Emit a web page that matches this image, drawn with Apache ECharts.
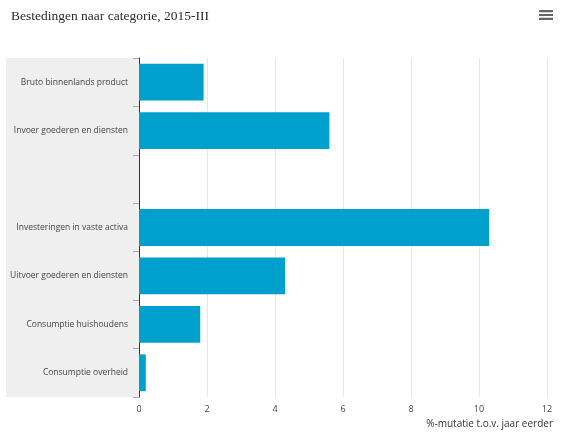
<!DOCTYPE html>
<html>
<head>
<meta charset="utf-8">
<script src="https://cdn.jsdelivr.net/npm/echarts@6/dist/echarts.min.js"></script>
<style>
  html, body { margin: 0; padding: 0; background: #fff; }
  #chart { width: 570px; height: 436px; }
</style>
</head>
<body>
<div id="chart"></div>
<script>
// categories top to bottom (one empty row in between)
const categories = [
  "Bruto binnenlands product",
  "Invoer goederen en diensten",
  "",
  "Investeringen in vaste activa",
  "Uitvoer goederen en diensten",
  "Consumptie huishoudens",
  "Consumptie overheid"
];
const mutatie = [1.9, 5.6, null, 10.3, 4.3, 1.8, 0.2];
const xTicks = [0, 2, 4, 6, 8, 10, 12];

const chart = echarts.init(document.getElementById("chart"));

chart.setOption({
  animation: false,
  title: {
    text: "Bestedingen naar categorie, 2015-III",
    left: 6,
    top: 4,
    textStyle: {
      fontFamily: "Liberation Serif",
      fontSize: 13.5,
      fontWeight: "normal",
      color: "#2a2a2a"
    }
  },
  toolbox: {
    right: 17,
    top: 10,
    padding: 0,
    itemSize: 14,
    feature: {
      myMenu: {
        show: true,
        title: "Menu",
        icon: "path://M0,0h14v2.2h-14z M0,3.9h14v2.2h-14z M0,7.8h14v2.2h-14z",
        onclick: function () {}
      }
    },
    iconStyle: { color: "#666", borderWidth: 0 }
  },
  graphic: [
    {
      type: "rect",
      left: 6,
      top: 58,
      shape: { width: 133, height: 339 },
      style: { fill: "#efefef" },
      z: -10
    }
  ],
  grid: {
    left: 139,
    right: 23,
    top: 58,
    bottom: 39
  },
  xAxis: {
    type: "value",
    min: xTicks[0],
    max: xTicks[xTicks.length - 1],
    interval: 2,
    name: "%-mutatie t.o.v. jaar eerder",
    nameLocation: "end",
    nameGap: 0,
    nameTextStyle: {
      fontFamily: "Open Sans",
      fontSize: 10,
      color: "#333",
      align: "right",
      verticalAlign: "top",
      padding: [22, -6, 0, 0]
    },
    axisLine: { show: false },
    axisTick: { show: false },
    axisLabel: {
      fontFamily: "Open Sans",
      fontSize: 9,
      color: "#444",
      margin: 8
    },
    splitLine: { lineStyle: { color: "#e6e6e6" } }
  },
  yAxis: {
    type: "category",
    data: categories,
    inverse: true,
    axisLine: { lineStyle: { color: "#333", width: 1 } },
    axisTick: { show: true, length: 6, lineStyle: { color: "#aaa" } },
    axisLabel: {
      fontFamily: "Open Sans",
      fontSize: 8.5,
      color: "#444",
      margin: 11
    }
  },
  series: [
    {
      type: "bar",
      data: mutatie,
      barCategoryGap: "24%",
      itemStyle: { color: "#00a0cc" }
    }
  ]
});
</script>
</body>
</html>
